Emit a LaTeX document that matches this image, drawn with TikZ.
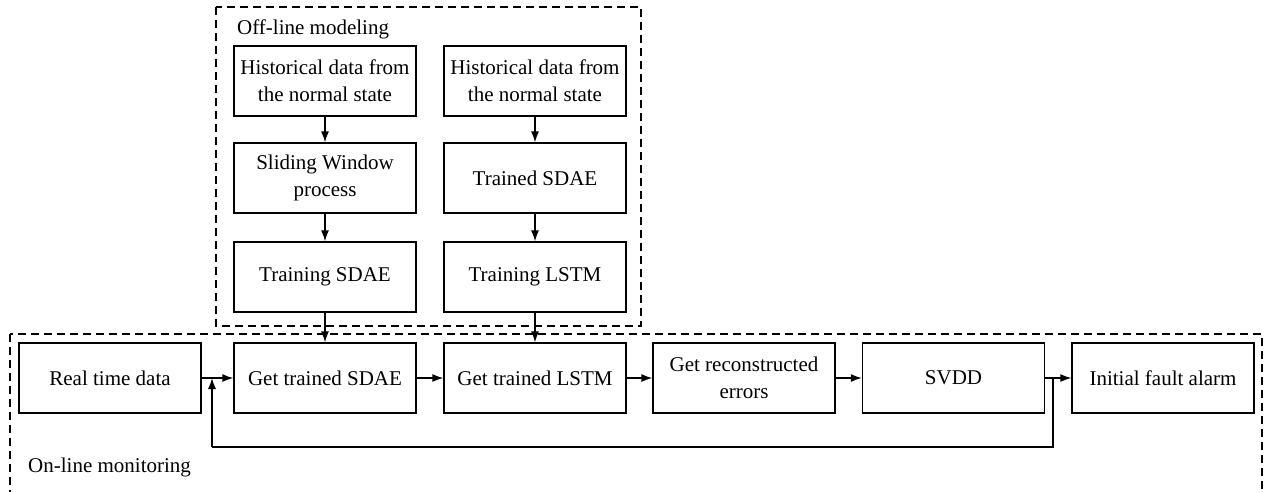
\documentclass[tikz,border=0pt]{standalone}
\usepackage{fontspec}
\setmainfont{Liberation Serif}
\usetikzlibrary{arrows.meta}
\begin{document}
\begin{tikzpicture}[x=1pt,y=-1pt,
  box/.style={draw,line width=1.3pt,minimum width=182pt,minimum height=70pt,inner sep=0pt,align=center,font=\fontsize{21}{27}\selectfont},
  conn/.style={line width=1.3pt,-{Latex[length=11pt,width=8pt]}},
  plain/.style={line width=1.3pt},
  group/.style={line width=1.1pt,dash pattern=on 8pt off 5pt},
  lbl/.style={anchor=west,inner sep=0pt,font=\fontsize{21}{25}\selectfont}]
\clip (0,0) rectangle (1264,491);
% group frames
\draw[group] (216,7) rectangle (641,326);
\draw[group] (10,334) rectangle (1262,520);
\node[lbl] (offl) at (237,29) {Off-line modeling};
\node[lbl] (onl) at (28,467) {On-line monitoring};
% off-line boxes
\node[box] (h1) at (325,81) {Historical data from\\the normal state};
\node[box] (h2) at (535,81) {Historical data from\\the normal state};
\node[box] (sw) at (325,178) {Sliding Window\\process};
\node[box] (ts) at (535,178) {Trained SDAE};
\node[box] (trs) at (325,277) {Training SDAE};
\node[box] (trl) at (535,277) {Training LSTM};
% on-line boxes
\node[box] (rt) at (110,378) {Real time data};
\node[box] (gs) at (325,378) {Get trained SDAE};
\node[box] (gl) at (535,378) {Get trained LSTM};
\node[box] (re) at (744,378) {Get reconstructed\\errors};
\node[box] (sv) at (953.5,378) {SVDD};
\node[box] (fa) at (1163,378) {Initial fault alarm};
% connectors
\draw[conn] (h1) -- (sw);
\draw[conn] (sw) -- (trs);
\draw[conn] (trs) -- (gs);
\draw[conn] (h2) -- (ts);
\draw[conn] (ts) -- (trl);
\draw[conn] (trl) -- (gl);
\draw[conn] (rt) -- (gs);
\draw[conn] (gs) -- (gl);
\draw[conn] (gl) -- (re);
\draw[conn] (re) -- (sv);
\draw[conn] (sv) -- (fa);
\coordinate (fb) at (1053,378);
\coordinate (jn) at (212,378);
\draw[plain] (fb) -- (1053,447) -- (212,447);
\draw[conn] (212,447) -- (jn);
\end{tikzpicture}
\end{document}
